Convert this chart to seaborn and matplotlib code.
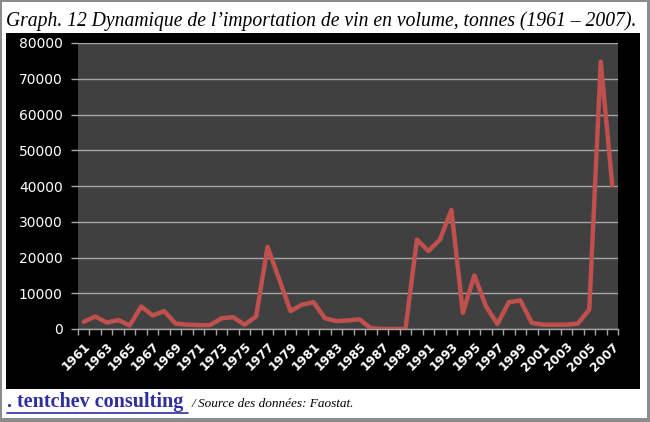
import numpy as np
import pandas as pd
import seaborn as sns
import matplotlib.pyplot as plt
from matplotlib.patches import Rectangle
from matplotlib.lines import Line2D

annees = list(range(1961, 2008))
tonnes = [2000, 3500, 1800, 2500, 1000, 6300, 3800, 5000, 1500, 1200,
          1100, 1100, 3000, 3300, 1200, 3500, 23000, 14000, 5000, 6800,
          7500, 3000, 2200, 2400, 2700, 200, 0, 0, 0, 25000,
          21800, 25000, 33300, 4500, 15000, 6400, 1400, 7500, 8000, 1700,
          1200, 1200, 1200, 1500, 5400, 74800, 40200]
etiquettes = [str(a) for a in annees[::2]]

df = pd.DataFrame({'Annee': annees, 'Tonnes': tonnes})

sns.set_style('dark')
plt.rcParams['font.family'] = ['DejaVu Sans']

fig = plt.figure(figsize=(6.5, 4.22), dpi=100)
fig.patch.set_facecolor('#8c8c8c')
fig.add_artist(Rectangle((2/650, 4/422), 645/650, 416/422, transform=fig.transFigure,
                         facecolor='white', edgecolor='none', zorder=0))
fig.add_artist(Rectangle((6/650, 1-389/422), 634/650, 356/422, transform=fig.transFigure,
                         facecolor='black', edgecolor='none', zorder=0))

ax = fig.add_axes([78/650, 1-329/422, 540/650, 286/422])
ax.set_facecolor('#404040')
sns.lineplot(x='Annee', y='Tonnes', data=df, ax=ax, color='#c0504d', linewidth=3.2)

ax.set_xlim(1960.5, 2007.5)
ax.set_ylim(0, 80000)
ax.set_yticks(range(0, 80001, 10000))
ax.yaxis.grid(True, color='#a6a6a6', linewidth=1)
ax.xaxis.grid(False)
for s in ['top', 'right', 'left']:
    ax.spines[s].set_visible(False)
ax.spines['bottom'].set_color('#a6a6a6')
ax.spines['bottom'].set_linewidth(1)

ax.set_xticks(annees[::2])
ax.set_xticklabels(etiquettes, rotation=45, ha='right', rotation_mode='anchor',
                   fontsize=8.8, fontweight='bold', color='white')
ax.set_xticks(np.arange(1960.5, 2008, 1), minor=True)
ax.tick_params(axis='x', which='major', length=0, pad=8)
ax.tick_params(axis='x', which='minor', length=4, color='#a6a6a6', width=1, bottom=True)
ax.tick_params(axis='y', length=5, color='#a6a6a6', width=1, labelcolor='white',
               labelsize=10, pad=6, left=True)
ax.set_xlabel('')
ax.set_ylabel('')

fig.text(6/650, 1-26/422,
         'Graph. 12 Dynamique de l\u2019importation de vin en volume, tonnes (1961 \u2013 2007).',
         family='Liberation Serif', style='italic', fontsize=14.15, color='black')

t = fig.text(7/650, 1-407/422, '. tentchev consulting ', family='Liberation Serif',
             fontweight='bold', fontsize=14.5, color='#2e2e9e')
fig.canvas.draw()
bb = t.get_window_extent().transformed(fig.transFigure.inverted())
fig.add_artist(Line2D([bb.x0, bb.x1], [bb.y0 - 0.002, bb.y0 - 0.002], transform=fig.transFigure,
                      color='#2e2e9e', linewidth=1.2))
fig.text(bb.x1 + 3/650, 1-407/422, '/ Source des donn\u00e9es: Faostat.', family='Liberation Serif',
         style='italic', fontsize=9.5, color='black')

plt.savefig('out.png', dpi=100, facecolor=fig.get_facecolor())
